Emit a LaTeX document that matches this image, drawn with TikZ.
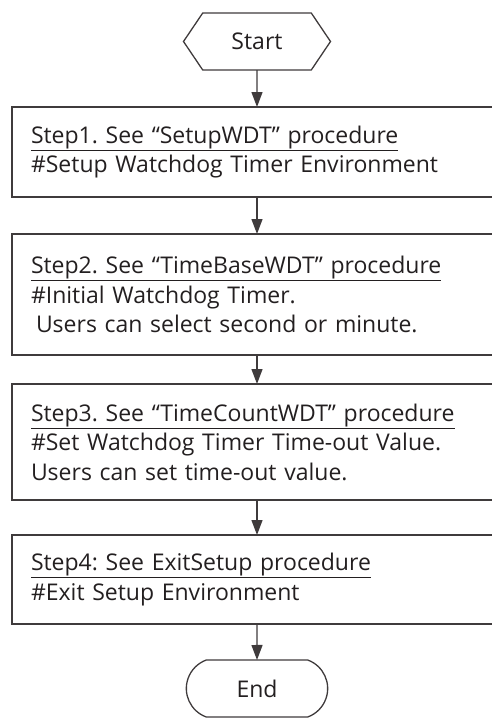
\documentclass[tikz,border=0pt]{standalone}
\usepackage{fontspec}
\setmainfont{Open Sans}
\usetikzlibrary{shapes.symbols, shapes.misc, arrows.meta, positioning}
\definecolor{linegray}{HTML}{3F3B3C}
\definecolor{textgray}{HTML}{231F20}
\frenchspacing

\begin{document}
\begin{tikzpicture}[node distance=37pt, font=\fontsize{23}{29.5}\selectfont, text=textgray]
\tikzstyle{terminal} = [signal, signal to=west and east, signal pointer angle=112, minimum width=147pt, minimum height=57pt, draw=linegray, line width=1.3pt, inner sep=0pt, outer sep=0pt]
\tikzstyle{endcap} = [rounded rectangle, rounded rectangle arc length=140, minimum width=148pt, minimum height=57pt, draw=linegray, line width=1.3pt, outer sep=0pt]
\tikzstyle{stepbox} = [rectangle, draw=linegray, line width=1.3pt, text width=452pt, inner xsep=19pt, outer sep=0pt, align=left]
\tikzstyle{arrow} = [line width=1.3pt, draw=linegray, -{Triangle[length=15pt,width=11pt]}]

\useasboundingbox (0pt,0pt) rectangle (492pt,-718pt);
\clip (0pt,0pt) rectangle (492pt,-718pt);

\node (start) [terminal] at (257pt,-41.5pt) {Start};
\node (step1) [stepbox, minimum height=90pt, below=37pt of start] {\underline{Step1. See “SetupWDT” procedure}\\ \#Setup Watchdog Timer Environment};
\node (step2) [stepbox, minimum height=121pt, below=37pt of step1] {\underline{Step2. See “TimeBaseWDT” procedure}\\ \#Initial Watchdog Timer.\\ \hspace*{5pt}Users can select second or minute.};
\node (step3) [stepbox, minimum height=116pt, below=29pt of step2] {\underline{Step3. See “TimeCountWDT” procedure}\\ \#Set Watchdog Timer Time-out Value.\\ Users can set time-out value.};
\node (step4) [stepbox, minimum height=89pt, below=35pt of step3] {\underline{Step4: See ExitSetup procedure}\\ \#Exit Setup Environment};
\node (end) [endcap, below=36pt of step4] {End};

\draw [arrow] (start) -- (step1);
\draw [arrow] (step1) -- (step2);
\draw [arrow] (step2) -- (step3);
\draw [arrow] (step3) -- (step4);
\draw [arrow] (step4) -- (end);
\end{tikzpicture}
\end{document}
